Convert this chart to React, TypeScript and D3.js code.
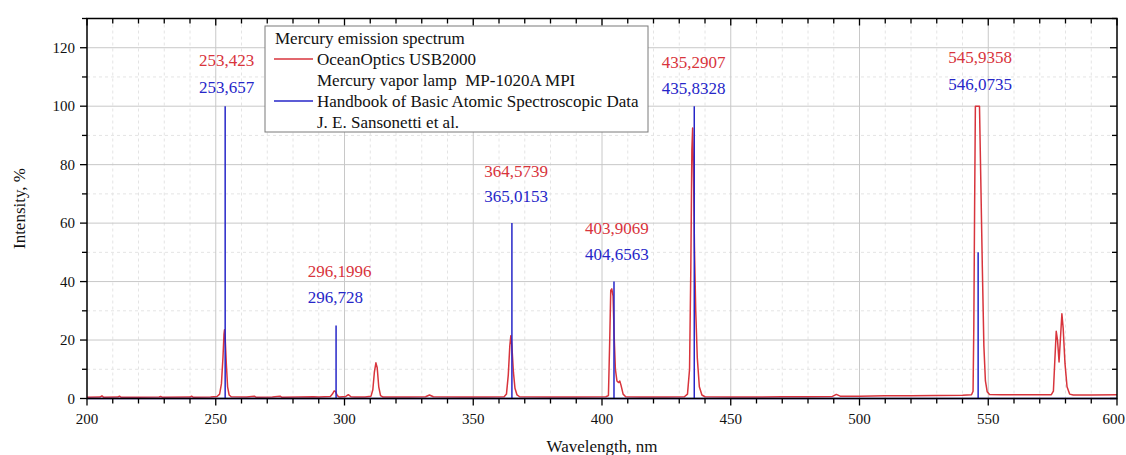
import React from "react";
import * as d3 from "d3";

const redX = [200, 205, 205.8, 206.5, 212, 212.6, 213.3, 220, 228, 228.6, 229.3, 240, 240.6, 241.3, 248, 250.5, 251.5, 252.2, 252.8, 253.2, 253.4, 253.7, 254.1, 254.6, 255.2, 256,
  262, 265, 265.7, 272, 275, 275.7, 282, 288, 290, 294.5, 295.3, 296.0, 296.5, 297.2, 298, 300.5, 301.5, 302.5, 304, 308, 310.3, 311.0, 311.6, 312.2, 312.7, 313.3, 314, 315,
  325, 331.5, 333, 334.5, 345, 355, 362, 362.9, 363.6, 364.2, 364.6, 365.0, 365.6, 366.2, 367, 368, 380, 390,
  401.5, 402.5, 403.0, 403.4, 403.8, 404.3, 404.7, 405.2, 405.8, 406.4, 406.9, 407.4, 408.2, 409.2, 415, 425,
  432, 433.2, 434, 434.5, 434.9, 435.2, 435.5, 435.9, 436.4, 437, 437.8, 438.8, 440, 450, 460, 470, 480, 489.5, 491, 492.5, 500, 510, 520, 530, 540,
  543.5, 544.1, 544.4, 544.7, 545.0, 546.6, 547.1, 547.7, 548.3, 548.9, 549.6, 550.5, 555, 565,
  574.5, 575.3, 575.8, 576.4, 576.9, 577.5, 578.0, 578.6, 579.1, 579.8, 580.6, 581.6, 583, 590, 600];
const redY = [0.4, 0.5, 0.9, 0.4, 0.5, 0.8, 0.4, 0.4, 0.5, 0.7, 0.4, 0.5, 0.8, 0.4, 0.5, 0.7, 1.5, 5, 14, 22, 23.5, 20, 12, 4, 1.2, 0.6,
  0.5, 0.8, 0.4, 0.5, 0.8, 0.4, 0.5, 0.6, 0.5, 0.7, 1.5, 2.6, 2.4, 1.0, 0.5, 0.7, 1.3, 0.6, 0.5, 0.5, 0.8, 3, 9, 12.2, 10.5, 4, 1, 0.5,
  0.5, 0.6, 1.2, 0.6, 0.5, 0.5, 0.6, 1.5, 8, 18, 21.5, 18, 9, 3.5, 1.2, 0.6, 0.5, 0.5,
  0.6, 1, 20, 37, 37.5, 35, 22, 10, 6, 5.5, 6, 4.5, 1.5, 0.6, 0.5, 0.5,
  0.6, 1.5, 10, 45, 85, 92.5, 80, 52, 30, 14, 4, 1.2, 0.6, 0.5, 0.5, 0.6, 0.6, 0.7, 1.4, 0.8, 0.8, 0.9, 0.9, 1.0, 1.1,
  1.3, 2.5, 25, 65, 100, 100, 75, 45, 18, 6, 2.3, 1.4, 1.3, 1.3,
  1.3, 2.5, 12, 23, 20, 12.5, 20, 29, 24, 12, 4, 1.5, 1.2, 1.2, 1.3];

// Handbook of Basic Atomic Spectroscopic Data (stick lines)
const refLines = [253.657, 296.728, 365.0153, 404.6563, 435.8328, 546.0735];
const refIntensity = [100, 25, 60, 40, 100, 50];

// Peak annotations
const measuredLabels = ["253,423", "296,1996", "364,5739", "403,9069", "435,2907", "545,9358"];
const referenceLabels = ["253,657", "296,728", "365,0153", "404,6563", "435,8328", "546,0735"];
const labelX = [243.5, 285.7, 354.3, 393.4, 423.2, 534.5];
const labelRedY = [115.8, 43.5, 77.8, 58.1, 114.8, 116.7];
const labelBlueY = [106.5, 34.4, 69.0, 49.3, 106.1, 107.5];

const xTicks = [200, 250, 300, 350, 400, 450, 500, 550, 600];
const yTicks = [0, 20, 40, 60, 80, 100, 120];

const legendTitle = "Mercury emission spectrum";
const legendRows = [
  { text: "OceanOptics USB2000", color: "red" },
  { text: "Mercury vapor lamp  MP-1020A MPI", color: "" },
  { text: "Handbook of Basic Atomic Spectroscopic Data", color: "blue" },
  { text: "J. E. Sansonetti et al.", color: "" },
];

const RED = "#d8343c";
const BLUE = "#2626c8";
const FONT = "'Liberation Serif', 'Times New Roman', serif";

export default function App() {
  const W = 1126, H = 455;
  const L = 87, R = 1117, T = 18.5, B = 398.5;
  const x = d3.scaleLinear().domain([200, 600]).range([L, R]);
  const y = d3.scaleLinear().domain([0, 130]).range([B, T]);

  const redPts: [number, number][] = redX.map((v, i) => [v, redY[i]]);
  const line = d3.line<[number, number]>().x(d => x(d[0])).y(d => y(d[1]));
  const redPath = line(redPts) || "";

  const bluePts: [number, number][] = [[200, 0]];
  refLines.forEach((w, i) => {
    bluePts.push([w, 0], [w, refIntensity[i]], [w, 0]);
  });
  bluePts.push([600, 0]);
  const bluePath = line(bluePts) || "";

  const xMinor = d3.range(200, 601, 10);
  const yMinor = d3.range(0, 131, 10);

  return (
    <svg width={W} height={H} style={{ position: "absolute", left: 0, top: 0, background: "#fff" }} fontFamily={FONT}>
      <defs>
        <clipPath id="plotclip">
          <rect x={L} y={T} width={R - L} height={B - T + 2} />
        </clipPath>
      </defs>
      {/* minor grid */}
      {xMinor.filter(v => v % 50 !== 0).map(v => (
        <line key={"xm" + v} x1={x(v)} x2={x(v)} y1={T} y2={B} stroke="#e4e4e4" strokeWidth={1} strokeDasharray="3,3" />
      ))}
      {yMinor.filter(v => v % 20 !== 0).map(v => (
        <line key={"ym" + v} x1={L} x2={R} y1={y(v)} y2={y(v)} stroke="#e4e4e4" strokeWidth={1} strokeDasharray="3,3" />
      ))}
      {/* major grid */}
      {xTicks.slice(1, -1).map(v => (
        <line key={"xg" + v} x1={x(v)} x2={x(v)} y1={T} y2={B} stroke="#c8c8c8" strokeWidth={1} />
      ))}
      {yTicks.slice(1).map(v => (
        <line key={"yg" + v} x1={L} x2={R} y1={y(v)} y2={y(v)} stroke="#c8c8c8" strokeWidth={1} />
      ))}

      {/* data */}
      <g clipPath="url(#plotclip)">
        <path d={redPath} fill="none" stroke={RED} strokeWidth={1.5} strokeLinejoin="round" />
        <path d={bluePath} fill="none" stroke={BLUE} strokeWidth={1.5} />
      </g>

      {/* frame */}
      <rect x={L} y={T} width={R - L} height={B - T} fill="none" stroke="#000" strokeWidth={1.5} />

      {/* bottom & top ticks */}
      {xMinor.map(v => {
        const major = v % 50 === 0;
        return (
          <g key={"xt" + v}>
            <line x1={x(v)} x2={x(v)} y1={B} y2={B + (major ? 7 : 5)} stroke="#000" strokeWidth={1.3} />
            <line x1={x(v)} x2={x(v)} y1={T} y2={T + (major ? 7 : 5)} stroke="#000" strokeWidth={1.3} />
          </g>
        );
      })}
      {xTicks.map((v, i) => {
        const last = i === xTicks.length - 1;
        return (
          <text key={"xl" + v} x={last ? W - 1 : x(v)} y={B + 20} textAnchor={last ? "end" : "middle"} dominantBaseline="central" fontSize={15} fill="#111">{v}</text>
        );
      })}
      {/* left & right ticks */}
      {yMinor.map(v => {
        const major = v % 20 === 0;
        return (
          <g key={"yt" + v}>
            <line x1={L} x2={L - (major ? 7 : 5)} y1={y(v)} y2={y(v)} stroke="#000" strokeWidth={1.3} />
            <line x1={R} x2={R - (major ? 7 : 5)} y1={y(v)} y2={y(v)} stroke="#000" strokeWidth={1.3} />
          </g>
        );
      })}
      {yTicks.map(v => (
        <text key={"yl" + v} x={L - 12} y={y(v)} textAnchor="end" dominantBaseline="central" fontSize={15} fill="#111">{v}</text>
      ))}

      {/* axis titles */}
      <text x={(L + R) / 2} y={446} textAnchor="middle" dominantBaseline="central" fontSize={17} fill="#111">Wavelength, nm</text>
      <text transform={`translate(19,${(T + B) / 2}) rotate(-90)`} textAnchor="middle" dominantBaseline="central" fontSize={17} fill="#111">Intensity, %</text>

      {/* peak labels */}
      {measuredLabels.map((s, i) => (
        <g key={"pl" + i}>
          <text x={x(labelX[i])} y={y(labelRedY[i])} dominantBaseline="central" fontSize={17} fill={RED}>{s}</text>
          <text x={x(labelX[i])} y={y(labelBlueY[i])} dominantBaseline="central" fontSize={17} fill={BLUE}>{referenceLabels[i]}</text>
        </g>
      ))}

      {/* legend */}
      <g>
        <rect x={265} y={26} width={383} height={106} fill="#fff" stroke="#7a7a7a" strokeWidth={1} />
        <text x={275} y={38} dominantBaseline="central" fontSize={17} fill="#111">{legendTitle}</text>
        {legendRows.map((r, i) => {
          const ry = 59 + i * 21;
          return (
            <g key={"lg" + i}>
              {r.color && <line x1={274} x2={313} y1={ry} y2={ry} stroke={r.color === "red" ? RED : BLUE} strokeWidth={1.5} />}
              <text x={317} y={ry} dominantBaseline="central" fontSize={17} fill="#111" style={{ whiteSpace: "pre" }}>{r.text}</text>
            </g>
          );
        })}
      </g>
    </svg>
  );
}
